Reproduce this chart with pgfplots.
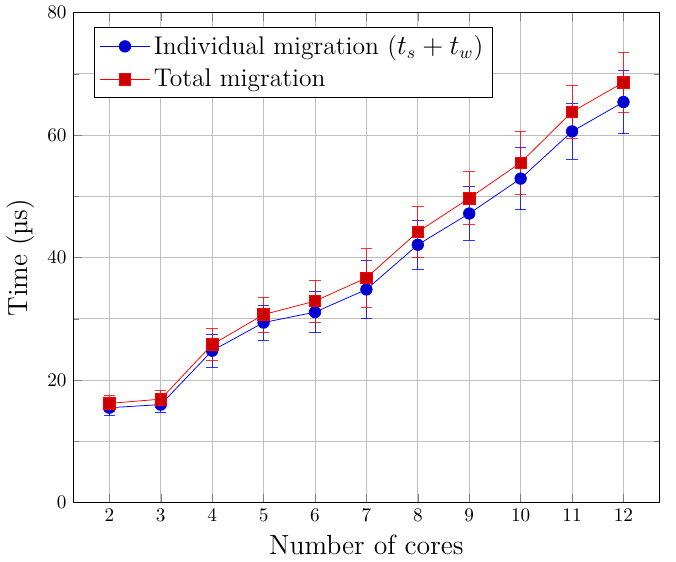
\documentclass[border=0pt]{standalone}
\usepackage{pgfplots}
\pgfplotsset{compat=1.18}
\begin{document}
\begin{tikzpicture}
  \begin{axis}[
      scale only axis,
      width=305pt,
      height=255pt,
      xmin=1.3, xmax=12.7,
      ymin=0, ymax=80,
      xtick={2,3,...,12},
      ytick={0,20,...,80},
      minor y tick num=1,
      xmajorgrids, ymajorgrids, yminorgrids,
      xlabel={Number of cores},
      ylabel={Time (µs)},
      label style={font=\Large},
      legend style={font=\fontsize{13.3}{16}\selectfont,
        at={(0.035,0.97)}, anchor=north west, row sep=2pt},
      legend cell align=left,
      legend image code/.code={%
        \draw[mark repeat=2,mark phase=2]
          plot coordinates {(0cm,0cm) (0.45cm,0cm) (0.9cm,0cm)};},
      mark size=3pt,
      error bars/error bar style={solid, opacity=0.8},
    ]
    % individual migration
    \addplot+[error bars/.cd, y dir=both, y explicit] coordinates {
      (2, 15.5)  +- (0, 1.2)
      (3, 16.0)  +- (0, 1.2)
      (4, 24.8)  +- (0, 2.65)
      (5, 29.4)  +- (0, 2.85)
      (6, 31.1)  +- (0, 3.35)
      (7, 34.8)  +- (0, 4.75)
      (8, 42.1)  +- (0, 4.05)
      (9, 47.2)  +- (0, 4.4)
      (10, 52.9) +- (0, 5.1)
      (11, 60.6) +- (0, 4.5)
      (12, 65.4) +- (0, 5.15)
    };
    \addlegendentry{Individual migration ($t_s + t_w$)}
    % total migration
    \addplot+[error bars/.cd, y dir=both, y explicit] coordinates {
      (2, 16.2)  +- (0, 1.3)
      (3, 16.9)  +- (0, 1.4)
      (4, 25.8)  +- (0, 2.65)
      (5, 30.7)  +- (0, 2.85)
      (6, 32.9)  +- (0, 3.4)
      (7, 36.7)  +- (0, 4.75)
      (8, 44.2)  +- (0, 4.1)
      (9, 49.7)  +- (0, 4.3)
      (10, 55.5) +- (0, 5.1)
      (11, 63.8) +- (0, 4.35)
      (12, 68.6) +- (0, 4.95)
    };
    \addlegendentry{Total migration}
  \end{axis}
  % a little white room on the right, as in the reference
  \path ([xshift=8.4pt]current axis.outer north east);
\end{tikzpicture}
\end{document}
